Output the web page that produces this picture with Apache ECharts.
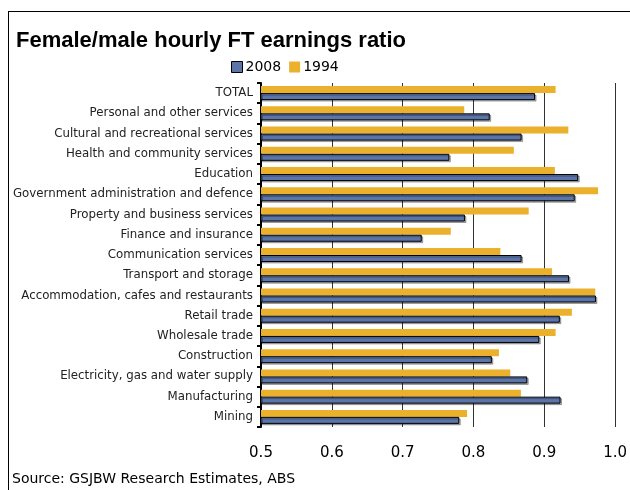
<!DOCTYPE html>
<html>
<head>
<meta charset="utf-8">
<script src="https://cdn.jsdelivr.net/npm/echarts@6/dist/echarts.min.js"></script>
<style>
  html, body { margin: 0; padding: 0; background: #fff; }
  #chart { width: 630px; height: 490px; }
</style>
</head>
<body>
<div id="chart"></div>
<script>
// industries, top to bottom
var categories = [
  "TOTAL",
  "Personal and other services",
  "Cultural and recreational services",
  "Health and community services",
  "Education",
  "Government administration and defence",
  "Property and business services",
  "Finance and insurance",
  "Communication services",
  "Transport and storage",
  "Accommodation, cafes and restaurants",
  "Retail trade",
  "Wholesale trade",
  "Construction",
  "Electricity, gas and water supply",
  "Manufacturing",
  "Mining"
];
var ratio2008 = [0.887, 0.823, 0.868, 0.766, 0.948, 0.943, 0.788, 0.727, 0.868,
  0.935, 0.973, 0.922, 0.893, 0.826, 0.876, 0.923, 0.780];
var ratio1994 = [0.916, 0.787, 0.934, 0.857, 0.915, 0.976, 0.878, 0.768, 0.838,
  0.911, 0.972, 0.939, 0.916, 0.836, 0.852, 0.867, 0.791];
var xTicks = [0.5, 0.6, 0.7, 0.8, 0.9, 1.0];

var font = "DejaVu Sans";
var chart = echarts.init(document.getElementById("chart"));

chart.setOption({
  animation: false,
  textStyle: { fontFamily: font },
  title: {
    text: "Female/male hourly FT earnings ratio",
    left: 11,
    top: 25,
    textStyle: { fontSize: 22, fontWeight: "bold", color: "#000", fontFamily: "Liberation Sans" }
  },
  legend: {
    left: 226,
    top: 55,
    icon: "rect",
    itemWidth: 11,
    itemHeight: 11,
    itemGap: 8,
    textStyle: { fontSize: 14, color: "#000", padding: [0, 0, 0, -2] },
    data: [
      { name: "2008", itemStyle: { borderColor: "#000", borderWidth: 1 } },
      { name: "1994" }
    ]
  },
  grid: { left: 261, right: 14, top: 83, bottom: 63, containLabel: false },
  xAxis: {
    type: "value",
    min: xTicks[0],
    max: xTicks[xTicks.length - 1],
    interval: 0.1,
    axisLine: { show: false },
    axisTick: { show: false },
    axisLabel: {
      fontSize: 15,
      color: "#000",
      margin: 19,
      formatter: function (v) { return v.toFixed(1); }
    },
    splitLine: { lineStyle: { color: "#333", width: 1 } }
  },
  yAxis: {
    type: "category",
    inverse: true,
    data: categories,
    axisLine: { lineStyle: { color: "#000", width: 2 } },
    axisTick: { show: true, length: 4, lineStyle: { color: "#000", width: 2 } },
    axisLabel: { fontSize: 11.8, color: "#222", margin: 8 }
  },
  graphic: [
    { type: "line", shape: { x1: 8, y1: 11.5, x2: 630, y2: 11.5 }, style: { stroke: "#000", lineWidth: 1 } },
    { type: "line", shape: { x1: 8.5, y1: 11, x2: 8.5, y2: 490 }, style: { stroke: "#000", lineWidth: 1 } },
    {
      type: "text", left: 12, top: 472,
      style: { text: "Source: GSJBW Research Estimates, ABS", fontSize: 14, fill: "#000", fontFamily: font }
    }
  ],
  series: [
    {
      name: "1994",
      type: "bar",
      data: ratio1994,
      barWidth: 7,
      barGap: "0%",
      itemStyle: { color: "#EBB02C" }
    },
    {
      name: "2008",
      type: "bar",
      data: ratio2008,
      barWidth: 7,
      itemStyle: {
        color: "#5B75A9",
        borderColor: "#000",
        borderWidth: 1,
        shadowColor: "rgba(0,0,0,0.3)",
        shadowOffsetX: 1.5,
        shadowOffsetY: 1.5
      }
    }
  ]
});
</script>
</body>
</html>
